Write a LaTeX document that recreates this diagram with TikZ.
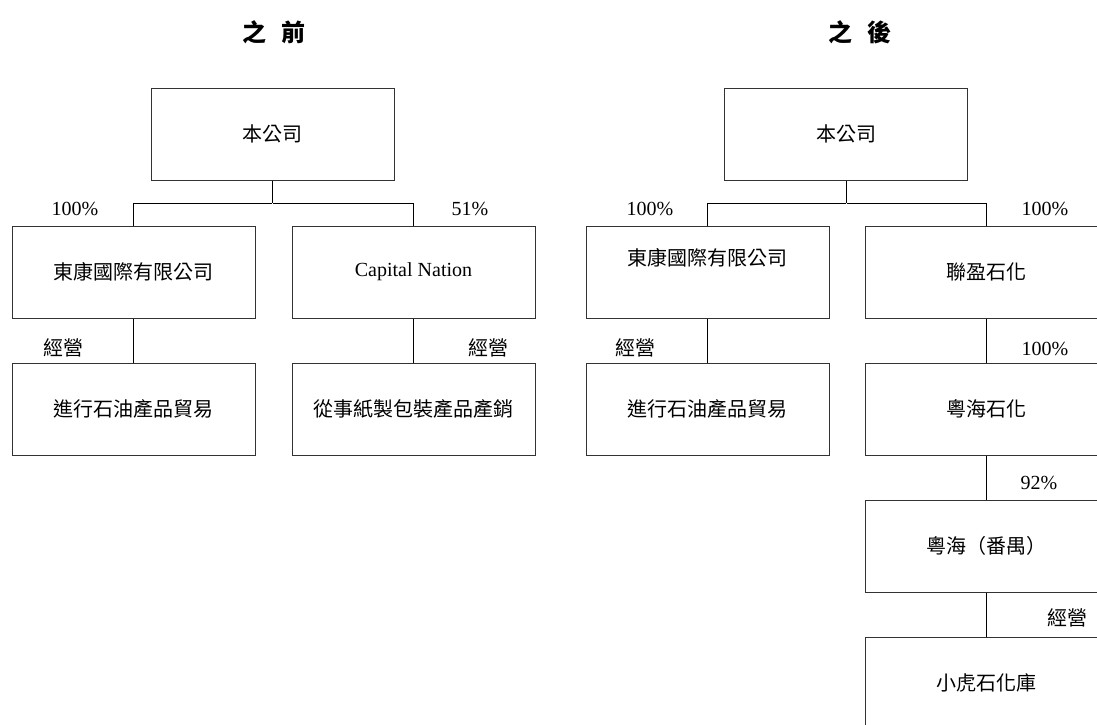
\documentclass[tikz,border=0pt]{standalone}
\usepackage{fontspec}
\setmainfont{Liberation Serif}
\newfontfamily\cjk{Noto Sans CJK TC}
\usetikzlibrary{positioning, graphs}
\tikzset{
x=0.5pt, y=-0.5pt,
node distance=22pt,
black!80,
text=black,
hv path/.style={to path={-| (\tikztotarget)}},
box/.style={%
    rectangle,
    minimum width=121.5pt,
    minimum height=46pt,
    inner sep=0pt,
    draw=black!80,
    % Font
    font=\cjk\fontsize{10}{12}\selectfont
},
latin/.style={font=\fontsize{10}{12}\selectfont},
note/.style={%
    inner sep=0pt, font=\cjk\fontsize{10}{12}\selectfont
},
pct/.style={%
    inner sep=0pt, font=\fontsize{10}{12}\selectfont
},
heading/.style={%
    inner sep=0pt, font=\cjk\bfseries\fontsize{12}{14}\selectfont
},
junction/.style={circle,inner sep=0pt,minimum size=0pt},
}

\begin{document}
\begin{tikzpicture}[line width=0.5pt]
			\clip (0,0) rectangle (1097,724);
			% before
			\node[heading] (before) at (274,32) {之\hspace{0.6em}前};
			\node[box] (com1) at (272.5,134) {本公司};
			\node[junction] (j1) at (272.5,203) {};
			\node[box] (dk1) at (133.5,272) {東康國際有限公司};
			\node[box, latin] (cn1) at (413.5,272) {Capital Nation};
			\node[box, below=of dk1] (tr1) {進行石油產品貿易};
			\node[box, below=of cn1] (pk1) {從事紙製包裝產品產銷};
			\node[pct] (p11) at (75,209) {100\%};
			\node[pct] (p12) at (470,209) {51\%};
			\node[note] (op11) at (63,348) {經營};
			\node[note] (op12) at (488,348) {經營};

			\graph [use existing nodes] {
				com1 -- j1 --[hv path] dk1 -- tr1;
				j1 --[hv path] cn1 -- pk1;
			};

			% after
			\node[heading] (after) at (860,32) {之\hspace{0.6em}後};
			\node[box] (com2) at (846,134) {本公司};
			\node[junction] (j2) at (846,203) {};
			\node[box, text depth=15.2pt] (dk2) at (707.5,272) {東康國際有限公司};
			\node[box] (ly) at (986.5,272) {聯盈石化};
			\node[box, below=of dk2] (tr2) {進行石油產品貿易};
			\node[box, below=of ly] (yh) {粵海石化};
			\node[box, below=of yh] (yp) {粵海（番禺）};
			\node[box, below=of yp] (xh) {小虎石化庫};
			\node[pct] (p21) at (650,209) {100\%};
			\node[pct] (p22) at (1045,209) {100\%};
			\node[note] (op21) at (635,348) {經營};
			\node[pct] (p23) at (1045,349) {100\%};
			\node[pct] (p24) at (1039,483) {92\%};
			\node[note] (op22) at (1067,618) {經營};

			\graph [use existing nodes] {
				com2 -- j2 --[hv path] dk2 -- tr2;
				j2 --[hv path] ly -- yh -- yp -- xh;
			};
		\end{tikzpicture}
\end{document}
